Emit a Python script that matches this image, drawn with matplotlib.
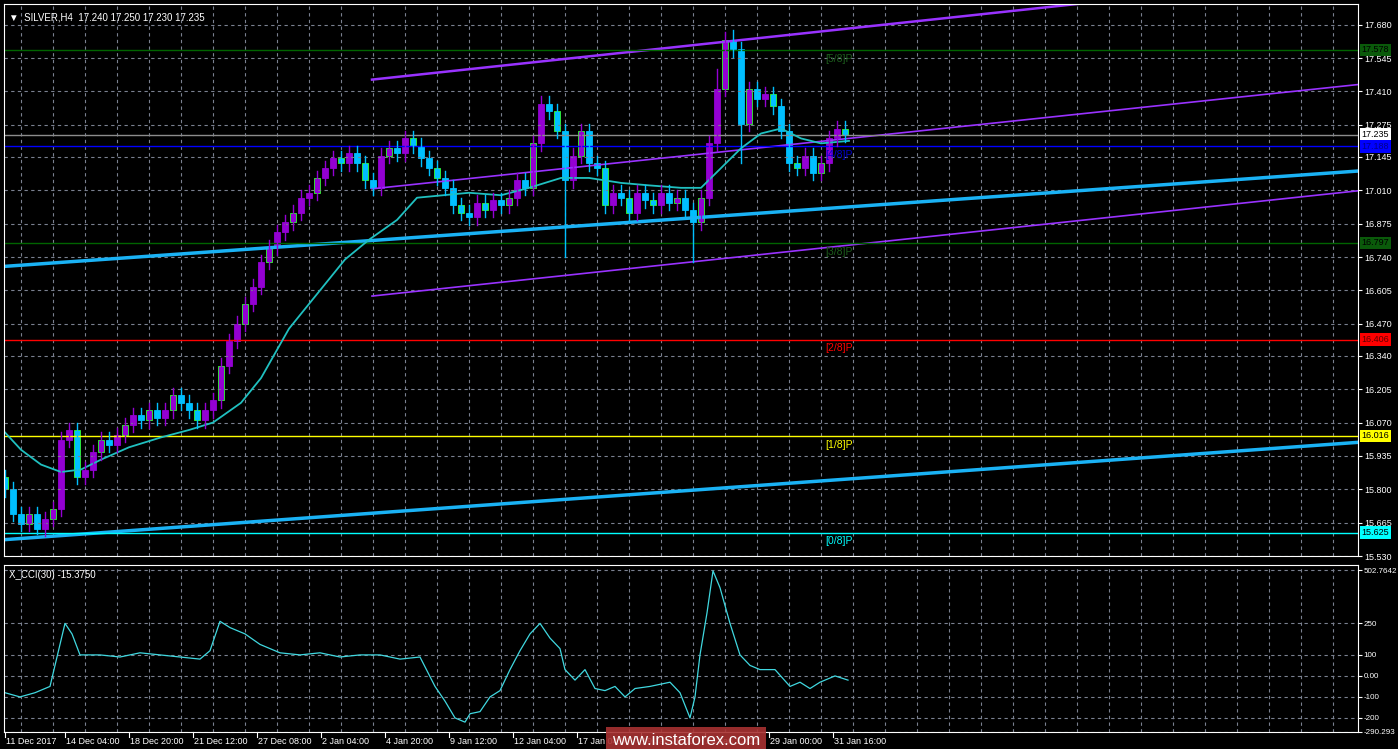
import matplotlib
matplotlib.use("Agg")
import matplotlib.pyplot as plt
import numpy as np
from matplotlib.patches import Rectangle

plt.rcParams["font.family"] = ["Liberation Sans", "DejaVu Sans"]

closes = [15.80,15.70,15.66,15.70,15.64,15.68,15.72,16.00,16.04,15.85,15.88,15.95,16.00,15.98,16.02,16.06,
16.10,16.08,16.12,16.09,16.12,16.18,16.15,16.12,16.08,16.12,16.16,16.30,16.40,16.47,16.55,16.62,16.72,16.78,
16.84,16.88,16.92,16.98,17.00,17.06,17.10,17.14,17.12,17.16,17.12,17.05,17.02,17.15,17.18,17.16,17.22,17.19,
17.14,17.10,17.06,17.02,16.95,16.92,16.90,16.96,16.93,16.97,16.95,16.98,17.05,17.02,17.20,17.36,17.33,17.25,
17.05,17.15,17.25,17.12,17.10,16.95,17.00,16.98,16.92,17.00,16.97,16.95,17.00,16.96,16.98,16.93,16.88,16.98,
17.20,17.42,17.62,17.58,17.28,17.42,17.38,17.40,17.35,17.25,17.12,17.10,17.15,17.08,17.12,17.22,17.26,17.235]
first_open = 15.85
long_wicks = {4: (15.62, None), 8: (None, 16.07), 70: (16.74, None), 86: (16.72, None), 89: (None, 17.50), 91: (None, 17.66), 92: (17.12, None)}

ma_idx = [0,4,9,14,19,24,31,39,46,52,59,64,71,79,85,91,98,103,116,124,131,139,146,154,161,169,174,179,184,189,194,199,204,211]
ma_val = [16.03,15.96,15.90,15.87,15.88,15.92,15.97,16.01,16.04,16.07,16.15,16.25,16.45,16.61,16.73,16.81,16.89,16.98,17.00,16.99,17.02,17.06,17.06,17.04,17.03,17.02,17.02,17.10,17.18,17.24,17.26,17.22,17.20,17.21]

cci_x = [5,20,35,50,60,65,72,80,100,120,140,160,180,200,210,220,230,245,260,280,300,320,340,360,380,400,420,435,445,455,465,470,480,490,500,510,520,530,540,550,560,565,575,585,595,605,615,625,635,650,670,680,690,695,700,707,713,720,730,740,750,760,775,790,800,810,820,835,848]
cci_v = [-80,-100,-80,-50,150,250,200,100,100,90,110,100,90,80,120,260,230,200,150,110,100,110,90,100,100,80,90,-50,-120,-200,-220,-180,-170,-100,-70,30,120,200,250,180,130,30,-20,30,-60,-70,-50,-100,-60,-50,-30,-80,-200,-100,100,300,500,420,250,100,50,30,30,-50,-30,-60,-30,0,-20]

date_pos = [0,15,31,47,63,79,95,111,127,143,159,175,191,207]
date_lbl = ["11 Dec 2017","14 Dec 04:00","18 Dec 20:00","21 Dec 12:00","27 Dec 08:00","2 Jan 04:00","4 Jan 20:00",
            "9 Jan 12:00","12 Jan 04:00","17 Jan 04:00","19 Jan 20:00","24 Jan 12:00","29 Jan 00:00","31 Jan 16:00"]
price_ticks = [17.680,17.545,17.410,17.275,17.145,17.010,16.875,16.740,16.605,16.470,16.340,16.205,16.070,15.935,15.800,15.665,15.530]
levels = [(17.578,"#006400","[5/8]P","#1c5c1c"),(17.188,"#0000ff","[4/8]P","#0000cc"),(16.797,"#006400","[3/8]P","#1c5c1c"),
          (16.406,"#ff0000","[2/8]P","#ff0000"),(16.016,"#ffff00","[1/8]P","#ffff00"),(15.625,"#00ffff","[0/8]P","#00ffff")]

W, H = 1398, 749
FS = 6.5
fig = plt.figure(figsize=(W/100, H/100), dpi=100, facecolor="black")
ax = fig.add_axes([4/W, (H-556)/H, 1354/W, 552/H], facecolor="black")
ax2 = fig.add_axes([4/W, (H-732)/H, 1354/W, 167/H], facecolor="black")
XMAX = 338.25
for a in (ax, ax2):
    a.set_xlim(-0.25, XMAX)
    for s in a.spines.values():
        s.set_color("white")
    a.tick_params(colors="white", labelsize=FS, length=3, direction="out", pad=1.5)
    a.yaxis.tick_right()
    a.set_xticks(np.arange(4, 340, 8), minor=False)
    a.grid(True, color="#7a8090", linestyle=(0, (3, 3)), linewidth=0.8)
    a.set_xticklabels([])
    a.tick_params(axis="x", length=0)

ax.set_ylim(15.544, 17.764)
ax.set_yticks(price_ticks)
ax.set_yticklabels([f"{v:.3f}" for v in price_ticks])

ax.plot([91.75, 338.25], [17.458, 17.458 + 0.001736 * (338.25 - 91.75)], color="#9932ff", lw=1.8)
ax.plot([91.75, 338.25], [17.016, 17.438], color="#9932ff", lw=1.2)
ax.plot([91.75, 338.25], [16.582, 17.008], color="#9932ff", lw=1.2)
ax.plot([-0.25, 338.25], [16.702, 17.088], color="#1ab2f5", lw=2.5)
ax.plot([-0.25, 338.25], [15.596, 15.990], color="#1ab2f5", lw=2.5)

ax.axhline(17.235, color="#8c8c8c", lw=1)
for v, c, lab, tc in levels:
    ax.axhline(v, color=c, lw=1)
    ax.text(205, v - 0.015, lab, color=tc, fontsize=7.5, va="top", ha="left")

ax.plot(ma_idx, ma_val, color="#20c0c0", lw=1.3)

o = first_open
for i, c in enumerate(closes):
    x = 2 * i
    lo, hi = min(o, c) - 0.03, max(o, c) + 0.03
    if i in long_wicks:
        l2, h2 = long_wicks[i]
        lo = l2 if l2 is not None else lo
        hi = h2 if h2 is not None else hi
    col = "#9400d3" if c >= o else "#00bfff"
    ax.plot([x, x], [lo, hi], color=col, lw=1)
    ax.add_patch(Rectangle((x - 0.75, min(o, c)), 1.5, max(abs(c - o), 0.004), facecolor=col,
                           edgecolor="#32ff32" if i % 3 == 0 else col, lw=0.6))
    o = c

boxes = [(17.578,"#0a5a0a","#000000"),(17.235,"#ffffff","#000000"),(17.188,"#0000ff","#00008b"),(16.797,"#0a5a0a","#000000"),
         (16.406,"#ff0000","#600000"),(16.016,"#ffff00","#000000"),(15.625,"#00ffff","#000000")]
for v, bg, fg in boxes:
    ax.text(1.0025, v, f"{v:.3f}", transform=ax.get_yaxis_transform(), fontsize=FS, color=fg, va="center", ha="left",
            bbox=dict(boxstyle="square,pad=0.2", fc=bg, ec="none"), zorder=10)

ax.text(0.004, 0.985, "\u25BC  SILVER,H4  17.240 17.250 17.230 17.235", transform=ax.transAxes, color="white", fontsize=7, va="top")

ax2.set_ylim(-267, 528)
ax2.plot([(x - 5) / 4 for x in cci_x], cci_v, color="#40d8e0", lw=0.9)
ax2.set_yticks([502.7642, 250, 100, 0, -100, -200, -267])
ax2.set_yticklabels(["502.7642", "250", "100", "0.00", "-100", "-200", "-290.293"])
ax2.tick_params(axis="y", labelsize=5.8, pad=1)
ax2.text(0.004, 0.97, "X_CCI(30) -15.3750", transform=ax2.transAxes, color="white", fontsize=7, va="top")
for p, lab in zip(date_pos, date_lbl):
    ax2.text(p + 0.3, -0.03, lab, transform=ax2.get_xaxis_transform(), color="white", fontsize=FS, va="top", ha="left")
    ax2.plot([p, p], [-0.03, 0], transform=ax2.get_xaxis_transform(), color="white", lw=0.8, clip_on=False)

fig.text(612/W, 1 - 748/H, "www.instaforex.com", color="white", fontsize=12,
         bbox=dict(boxstyle="square,pad=0.35", fc="#a83232", ec="none", alpha=0.9), va="bottom", ha="left")

fig.savefig("out.png", dpi=100, facecolor="black")
